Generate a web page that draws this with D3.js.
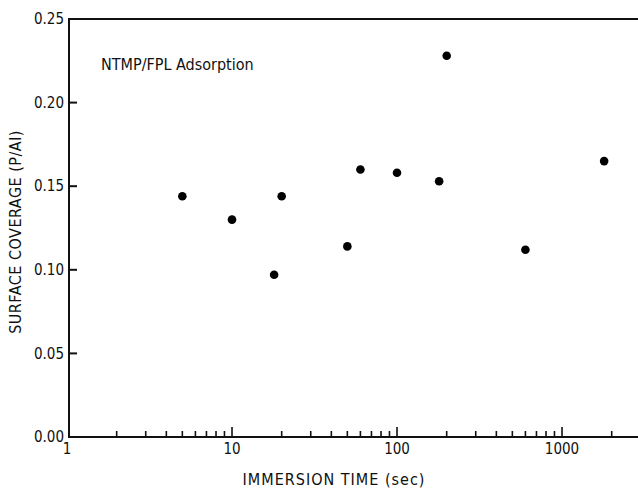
<!DOCTYPE html>
<html>
<head>
<meta charset="utf-8">
<script src="https://cdn.jsdelivr.net/npm/d3@7"></script>
<style>
  body { margin: 0; background: #fff; }
  svg { display: block; }
  text { font-family: "Liberation Sans Narrow", "DejaVu Sans Condensed", sans-serif; fill: #111; }
</style>
</head>
<body>
<svg id="chart" width="638" height="488"></svg>
<script>
// Immersion time (s) and surface coverage (P/Al) for NTMP on FPL-treated aluminium
const immersionTime = [5, 10, 18, 20, 50, 60, 100, 180, 200, 600, 1800];
const surfaceCoverage = [0.144, 0.130, 0.097, 0.144, 0.114, 0.160, 0.158, 0.153, 0.228, 0.112, 0.165];

const yTicks = [0, 0.05, 0.10, 0.15, 0.20, 0.25];
const xMajorTicks = [1, 10, 100, 1000];
const xMinorTicks = [2, 3, 4, 5, 6, 7, 8, 9, 20, 30, 40, 50, 60, 70, 80, 90,
                     200, 300, 400, 500, 600, 700, 800, 900, 2000];

const svg = d3.select("#chart");
const plotLeft = 67, plotRight = 638, plotTop = 19, plotBottom = 437;

const x = d3.scaleLog().domain([1, 2887]).range([plotLeft, plotRight]);
const y = d3.scaleLinear().domain([0, 0.25]).range([plotBottom, plotTop]);

// frame: left spine, top line, baseline
svg.append("path")
  .attr("d", `M${plotRight},${plotTop}H${plotLeft + 2}V${plotBottom}H${plotRight}`)
  .attr("fill", "none").attr("stroke", "#111").attr("stroke-width", 2);

// y ticks (pointing inward) and labels
const yg = svg.append("g");
yg.selectAll("line").data(yTicks).join("line")
  .attr("x1", plotLeft + 2).attr("x2", plotLeft + 10)
  .attr("y1", d => y(d)).attr("y2", d => y(d))
  .attr("stroke", "#111").attr("stroke-width", 2);
yg.selectAll("text").data(yTicks).join("text")
  .attr("x", plotLeft - 3).attr("y", d => y(d))
  .attr("dy", "0.35em")
  .attr("text-anchor", "end")
  .attr("font-size", 15)
  .text(d => d3.format(".2f")(d));

// x ticks (pointing up from baseline)
const xg = svg.append("g");
xg.selectAll("line.minor").data(xMinorTicks).join("line")
  .attr("class", "minor")
  .attr("x1", d => x(d)).attr("x2", d => x(d))
  .attr("y1", plotBottom).attr("y2", plotBottom - 6)
  .attr("stroke", "#111").attr("stroke-width", 1.6);
xg.selectAll("line.major").data(xMajorTicks.slice(1)).join("line")
  .attr("class", "major")
  .attr("x1", d => x(d)).attr("x2", d => x(d))
  .attr("y1", plotBottom).attr("y2", plotBottom - 10)
  .attr("stroke", "#111").attr("stroke-width", 1.6);
xg.selectAll("text").data(xMajorTicks).join("text")
  .attr("x", d => x(d)).attr("y", plotBottom + 17)
  .attr("text-anchor", "middle")
  .attr("font-size", 15)
  .text(d => d);

// data points
svg.append("g").selectAll("circle")
  .data(immersionTime.map((t, i) => [t, surfaceCoverage[i]]))
  .join("circle")
  .attr("cx", d => x(d[0])).attr("cy", d => y(d[1]))
  .attr("r", 4.3).attr("fill", "#000");

// annotation
svg.append("text")
  .attr("x", 101).attr("y", 70)
  .attr("font-size", 16)
  .text("NTMP/FPL Adsorption");

// axis titles
svg.append("text")
  .attr("x", 334).attr("y", 485)
  .attr("text-anchor", "middle")
  .attr("font-size", 16)
  .attr("letter-spacing", "1px")
  .text("IMMERSION TIME (sec)");

svg.append("text")
  .attr("transform", "translate(21,232) rotate(-90)")
  .attr("text-anchor", "middle")
  .attr("font-size", 16)
  .attr("letter-spacing", "0.5px")
  .text("SURFACE COVERAGE (P/Al)");
</script>
</body>
</html>
